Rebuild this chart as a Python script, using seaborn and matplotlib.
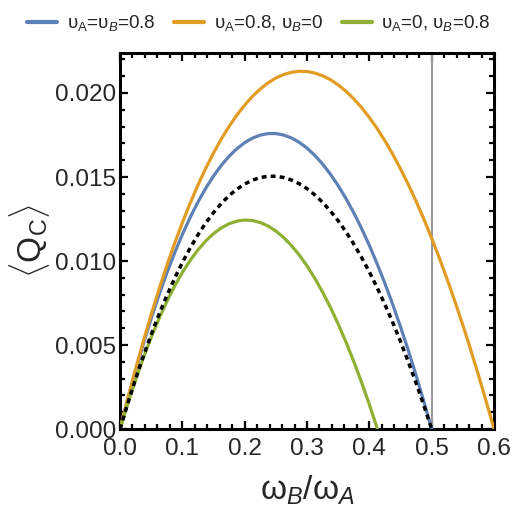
import numpy as np
import pandas as pd
import seaborn as sns
import matplotlib
matplotlib.use("Agg")
import matplotlib.pyplot as plt
from matplotlib.ticker import MultipleLocator

# ---- data ----
x_grid = [0.0, 0.0125, 0.025, 0.0375, 0.05, 0.0625, 0.075, 0.0875, 0.1, 0.1125,
          0.125, 0.1375, 0.15, 0.1625, 0.175, 0.1875, 0.2, 0.2125, 0.225, 0.2375,
          0.25, 0.2625, 0.275, 0.2875, 0.3, 0.3125, 0.325, 0.3375, 0.35, 0.3625,
          0.375, 0.3875, 0.4, 0.4125, 0.425, 0.4375, 0.45, 0.4625, 0.475, 0.4875,
          0.5, 0.5125, 0.525, 0.5375, 0.55, 0.5625, 0.575, 0.5875, 0.6]
x_b = x_grid[:41]
blue = [0.0, 0.001794, 0.003487, 0.005081, 0.006576, 0.007973, 0.009273, 0.010475,
        0.011582, 0.012593, 0.013508, 0.014330, 0.015058, 0.015693, 0.016235,
        0.016686, 0.017045, 0.017314, 0.017493, 0.017583, 0.017585, 0.017498,
        0.017324, 0.017064, 0.016718, 0.016286, 0.015769, 0.015169, 0.014485,
        0.013718, 0.012869, 0.011938, 0.010927, 0.009835, 0.008664, 0.007414,
        0.006085, 0.004679, 0.003195, 0.001636, 0.0]
dotted = [0.0, 0.001535, 0.002983, 0.004347, 0.005627, 0.006822, 0.007934, 0.008963,
          0.009909, 0.010774, 0.011558, 0.012261, 0.012883, 0.013426, 0.013891,
          0.014276, 0.014584, 0.014814, 0.014967, 0.015044, 0.015045, 0.014971,
          0.014823, 0.014600, 0.014304, 0.013934, 0.013492, 0.012978, 0.012393,
          0.011737, 0.011010, 0.010214, 0.009349, 0.008415, 0.007413, 0.006343,
          0.005206, 0.004003, 0.002734, 0.001399, 0.0]
x_o = x_grid
orange = [0.0, 0.001834, 0.003582, 0.005243, 0.006820, 0.008311, 0.009719, 0.011043,
          0.012283, 0.013442, 0.014518, 0.015513, 0.016426, 0.017260, 0.018013,
          0.018688, 0.019283, 0.019800, 0.020240, 0.020602, 0.020888, 0.021098,
          0.021232, 0.021292, 0.021277, 0.021188, 0.021025, 0.020791, 0.020483,
          0.020104, 0.019654, 0.019133, 0.018542, 0.017882, 0.017152, 0.016355,
          0.015489, 0.014556, 0.013555, 0.012489, 0.011357, 0.010160, 0.008898,
          0.007572, 0.006183, 0.004730, 0.003215, 0.001638, 0.0]
x_g = x_grid[:33] + [0.413]
green = [0.0, 0.001514, 0.002927, 0.004240, 0.005452, 0.006565, 0.007579, 0.008496,
         0.009315, 0.010037, 0.010663, 0.011193, 0.011629, 0.011971, 0.012220,
         0.012375, 0.012439, 0.012410, 0.012291, 0.012083, 0.011784, 0.011397,
         0.010921, 0.010358, 0.009708, 0.008972, 0.008150, 0.007244, 0.006253,
         0.005178, 0.004021, 0.002781, 0.001460, 0.0]
vline_x = 0.5

labels = ['υ$_\\mathrm{A}$=υ$_B$=0.8', 'υ$_\\mathrm{A}$=0.8, υ$_B$=0', 'υ$_\\mathrm{A}$=0, υ$_B$=0.8']
colors = ['#5E81B5', '#E19C24', '#8FB032']
xticks = [0.0, 0.1, 0.2, 0.3, 0.4, 0.5, 0.6]
yticks = [0.000, 0.005, 0.010, 0.015, 0.020]

sns.set_style("ticks")
plt.rcParams['font.family'] = ['Liberation Sans', 'DejaVu Sans']
plt.rcParams['mathtext.fontset'] = 'custom'
plt.rcParams['mathtext.rm'] = 'Liberation Sans'
plt.rcParams['mathtext.it'] = 'Liberation Sans:italic'
plt.rcParams['lines.solid_joinstyle'] = 'round'

df = pd.concat([
    pd.DataFrame({'x': x_b, 'y': blue, 's': labels[0]}),
    pd.DataFrame({'x': x_o, 'y': orange, 's': labels[1]}),
    pd.DataFrame({'x': x_g, 'y': green, 's': labels[2]}),
])

fig = plt.figure(figsize=(5.18, 5.12), dpi=100)
ax = fig.add_axes([0.2317, 0.162, 0.7220, 0.7345])

ax.axvline(vline_x, color='#999999', lw=1.5, zorder=1)
sns.lineplot(data=df, x='x', y='y', hue='s', palette=colors, hue_order=labels,
             estimator=None, sort=False, lw=2.3, ax=ax, legend=False, zorder=3)
sns.lineplot(x=x_b, y=dotted, color='black', lw=2.5, ax=ax, estimator=None,
             sort=False, linestyle=(0, (1.4, 1.2)), zorder=4)

ax.set_xlim(0, 0.6)
ax.set_ylim(0, 0.02238)
ax.set_xticks(xticks, [f'{v:.1f}' for v in xticks])
ax.set_yticks(yticks, [f'{v:.3f}' for v in yticks])
ax.xaxis.set_minor_locator(MultipleLocator(0.02))
ax.yaxis.set_minor_locator(MultipleLocator(0.001))
ax.tick_params(which='both', direction='in', top=True, right=True, width=1.6,
               color='black', labelsize=17.5)
ax.tick_params(which='major', length=6)
ax.tick_params(which='minor', length=3.5)
ax.tick_params(axis='x', pad=6.5)
ax.tick_params(axis='y', pad=3)
for sp in ax.spines.values():
    sp.set_visible(True)
    sp.set_linewidth(2.2)
    sp.set_color('black')

ax.set_xlabel('ω$_{B}$/ω$_{A}$', fontsize=24, labelpad=10)
ax.set_ylabel('$\\langle$Q$_\\mathrm{C}$$\\rangle$', fontsize=24, labelpad=2)

handles = [plt.Line2D([0], [0], color=c, lw=3) for c in colors]
fig.legend(handles, labels, loc='upper center', bbox_to_anchor=(0.5, 1.0), ncol=3,
           frameon=False, fontsize=13.5, handlelength=1.6, handletextpad=0.5,
           columnspacing=1.0, borderaxespad=0.3)

fig.savefig('out.png', dpi=100)
